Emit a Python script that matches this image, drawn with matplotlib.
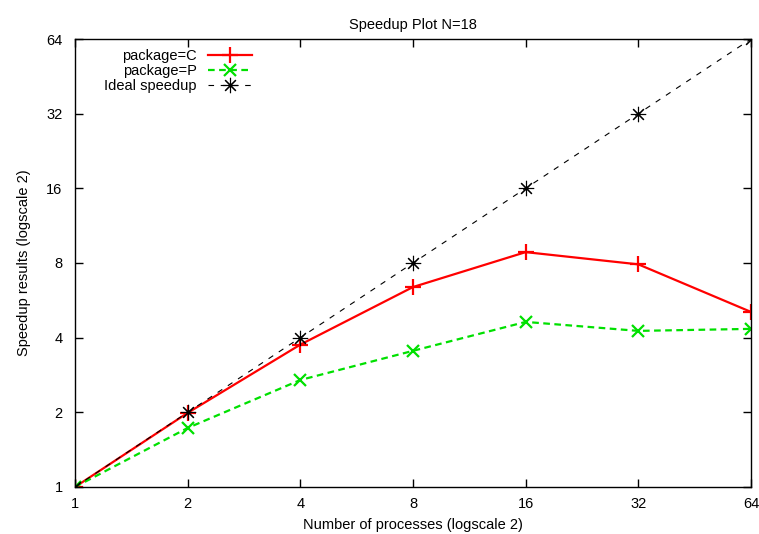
import matplotlib
matplotlib.use("Agg")
import matplotlib.pyplot as plt
from matplotlib.ticker import FixedLocator, FixedFormatter, NullLocator

plt.rcParams['font.family'] = ['Liberation Sans', 'DejaVu Sans']

procs = [1, 2, 4, 8, 16, 32, 64]
speedup_c = [1.0, 1.99, 3.75, 6.4, 8.85, 7.9, 5.08]
speedup_p = [1.0, 1.73, 2.7, 3.54, 4.63, 4.26, 4.34]
speedup_ideal = [1, 2, 4, 8, 16, 32, 64]
tick_vals = [1, 2, 4, 8, 16, 32, 64]
tick_labels = ['1', '2', '4', '8', '16', '32', '64']

W, H = 759, 534
fig = plt.figure(figsize=(W / 100, H / 100), dpi=100)
ax = fig.add_axes([75 / W, 47 / H, (751 - 75) / W, (487 - 39) / H])

ax.plot(procs, speedup_c, color='#ff0000', lw=1.6, marker='+', markersize=12,
        markeredgewidth=1.6, label='package=C')
ax.plot(procs, speedup_p, color='#00e000', lw=1.6, ls=(0, (3, 2)), marker='x',
        markersize=9, markeredgewidth=1.6, label='package=P')
ax.plot(procs, speedup_ideal, color='black', lw=0.8, ls=(0, (5, 6)), marker=(8, 2, 0),
        markersize=11, markeredgewidth=0.8, label='Ideal speedup')

ax.set_xscale('log', base=2)
ax.set_yscale('log', base=2)
ax.set_xlim(1, 64)
ax.set_ylim(1, 64)
for axis in (ax.xaxis, ax.yaxis):
    axis.set_major_locator(FixedLocator(tick_vals))
    axis.set_major_formatter(FixedFormatter(tick_labels))
    axis.set_minor_locator(NullLocator())
ax.tick_params(direction='in', length=6, width=1, top=True, right=True,
               labelsize=10.5, colors='black')
ax.tick_params(axis='y', pad=9)
ax.tick_params(axis='x', pad=7)
for s in ax.spines.values():
    s.set_linewidth(1.0)

ax.set_title('Speedup Plot N=18', fontsize=10.5, pad=7)
ax.set_xlabel('Number of processes (logscale 2)', fontsize=10.5, labelpad=5)
ax.set_ylabel('Speedup results (logscale 2)', fontsize=10.5, labelpad=11)

leg = ax.legend(loc='upper left', bbox_to_anchor=(19 / 676, 1.0), markerfirst=False,
                frameon=False, fontsize=10.5, handlelength=3.0, handletextpad=0.8,
                labelspacing=0.05, borderaxespad=0.3)

fig.savefig('out.png', dpi=100)
